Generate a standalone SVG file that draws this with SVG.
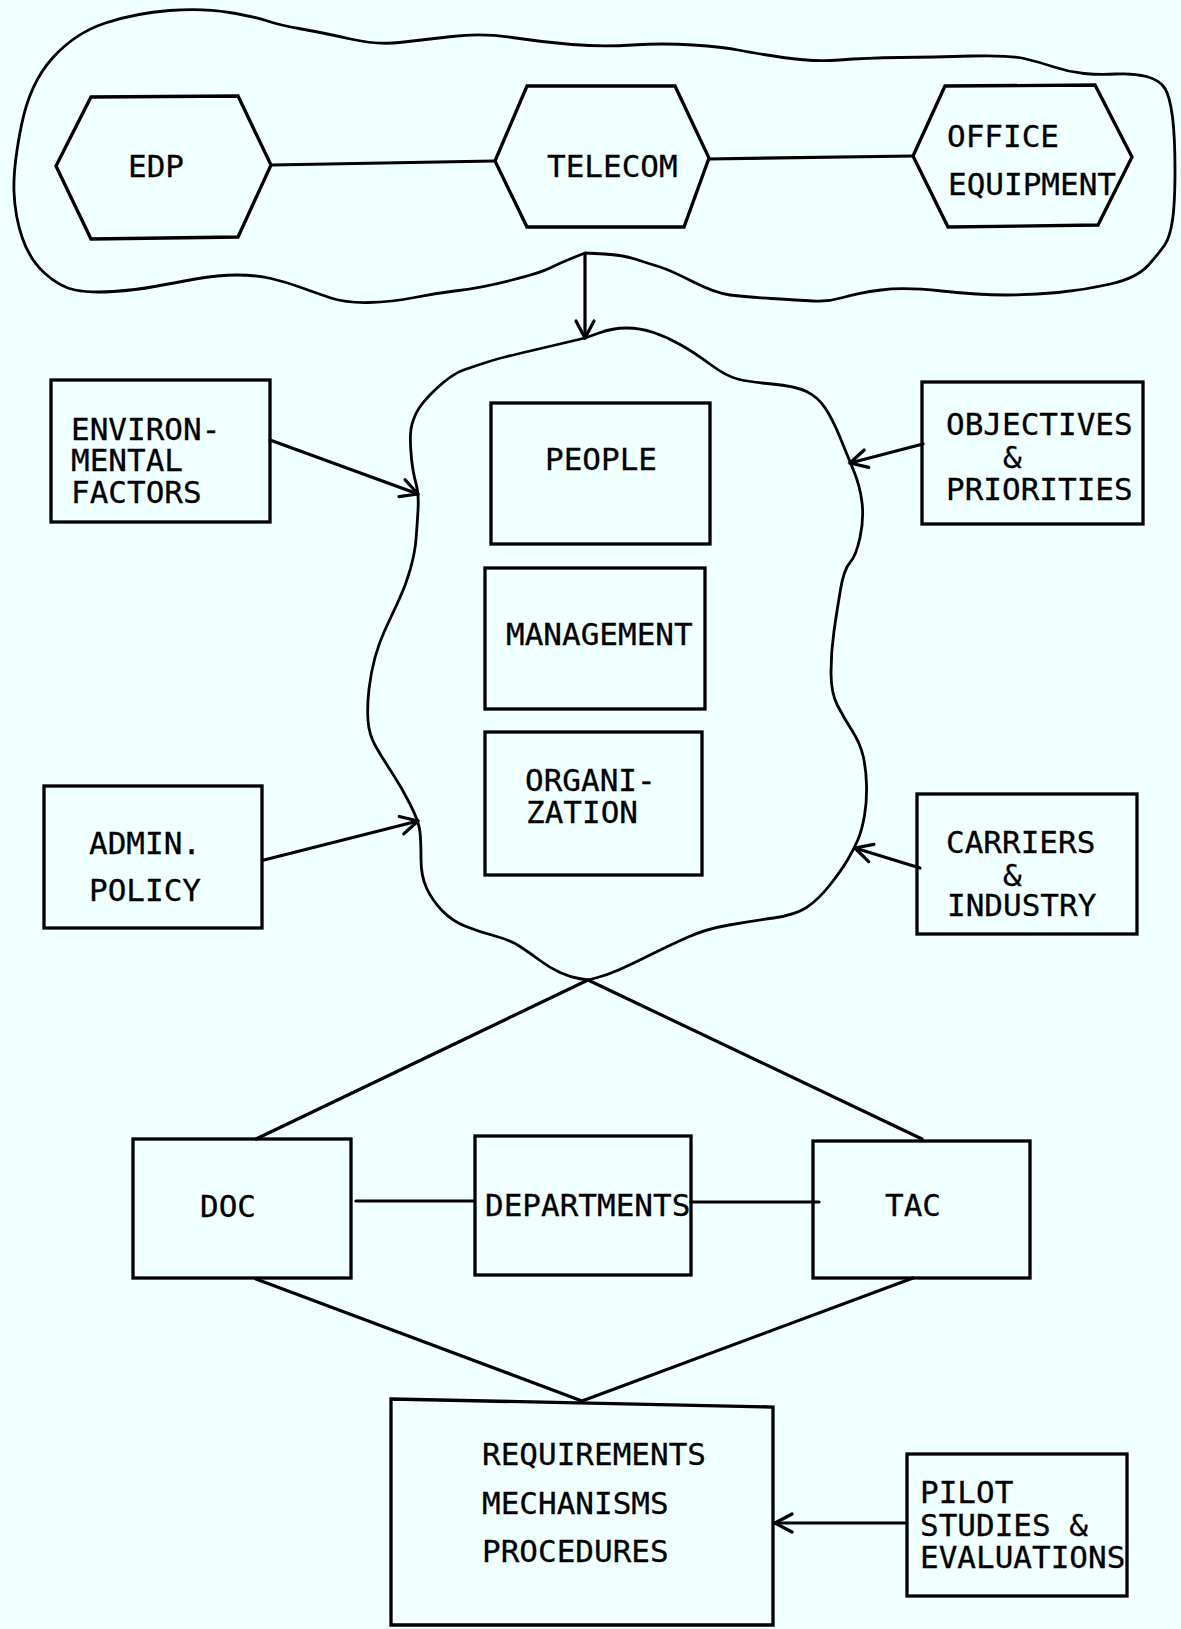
<svg xmlns="http://www.w3.org/2000/svg" width="1181" height="1629" viewBox="0 0 1181 1629">
  <style>
    .bg { fill: #f0ffff; }
    .outline { fill: none; stroke: #000; stroke-width: 2.8; stroke-linejoin: round; stroke-linecap: round; }
    .box { fill: none; stroke: #000; stroke-width: 3.3; stroke-linejoin: miter; }
    .link { fill: none; stroke: #000; stroke-width: 3.2; stroke-linecap: round; }
    .arrow { fill: none; stroke: #000; stroke-width: 3.2; stroke-linecap: round; marker-end: url(#vhead); }
    .lbl { font-family: "DejaVu Sans Mono", "Liberation Mono", monospace; font-size: 31px; fill: #000; stroke: #000; stroke-width: 0.3; }
  </style>
  <defs>
    <marker id="vhead" markerUnits="userSpaceOnUse" viewBox="-22 -12 26 24" refX="0" refY="0" markerWidth="26" markerHeight="24" orient="auto">
      <path d="M-17,-9 L0,0 L-17,9" fill="none" stroke="#000" stroke-width="3.2" stroke-linecap="round" stroke-linejoin="round"/>
    </marker>
  </defs>

  <rect class="bg" x="0" y="0" width="1181" height="1629"/>

  <!-- outer cloud around the technology group -->
  <g id="tech-cloud">
    <path class="outline" d="M14,192 Q13,167 21.5,125 Q30,83 52.5,58 Q75,33 105.5,23 Q136,13 169.5,10.5 Q203,8 229.5,12.5 Q256,17 267.5,21 Q279,25 301.5,29 Q324,33 350.5,39 Q377,45 399.5,42.5 Q422,40 452,36.5 Q482,33 512,37.5 Q542,42 572,44.5 Q602,47 632.5,45 Q663,43 693,45 Q723,47 738,50 Q753,53 783,57.5 Q813,62 839.5,60 Q866,58 900,57.5 Q934,57 971.5,56 Q1009,55 1024,58.5 Q1039,62 1054,67 Q1069,72 1084,73.5 Q1099,75 1116,74 Q1133,73 1146.5,76.5 Q1160,80 1165,88.5 Q1170,97 1172.5,117 Q1175,137 1175,170 Q1175,203 1172.5,220 Q1170,237 1165,244.5 Q1160,252 1148.5,265 Q1137,278 1110.5,284 Q1084,290 1058,292.5 Q1032,295 1005.5,295 Q979,295 941.5,291 Q904,287 881,290 Q858,293 843,297.5 Q828,302 813,301 Q798,300 771.5,298.5 Q745,297 730,295 Q715,293 692.5,281.5 Q670,270 658.5,266.5 Q647,263 635,259 Q623,255 604,254 L585,253 L572.5,258 Q560,263 550,268 Q540,273 510,280.5 Q480,288 458.5,290.5 Q437,293 414.5,297.5 Q392,302 369,302.5 Q346,303 331,298 Q316,293 301,287.5 Q286,282 271,278.5 Q256,275 237,275 Q218,275 195.5,279 Q173,283 154.5,286.5 Q136,290 113,291.5 Q90,293 75,290 Q60,287 45,273.5 Q30,260 22.5,238.5 Q15,217 14,192 Z"/>
  </g>

  <!-- central blob holding people / management / organization -->
  <g id="core-blob">
    <path class="outline" d="M585,338 L599,333 Q613,328 626.5,328 Q640,328 653.5,332.5 Q667,337 681,345 Q695,353 710.5,364.5 Q726,376 737.5,379 Q749,382 772,384 Q795,386 806.5,391.5 Q818,397 825.5,408.5 Q833,420 840.5,438.5 Q848,457 854,471.5 Q860,486 862,502.5 Q864,519 860,537.5 Q856,556 850,562.5 Q844,569 840.5,589.5 Q837,610 834,631 Q831,652 831,672.5 Q831,693 837.5,705.5 Q844,718 852,730.5 Q860,743 863,755.5 Q866,768 866.5,784.5 Q867,801 864.5,815.5 Q862,830 858,839.5 Q854,849 847.5,860 Q841,871 829.5,885.5 Q818,900 806.5,907.5 Q795,915 773.5,918 Q752,921 729,925 Q706,929 687,937.5 Q668,946 649,955.5 Q630,965 618.5,970 Q607,975 597.5,977.5 L588,980 L579,978.5 Q570,977 560,972.5 Q550,968 540,960.5 Q530,953 520,946.5 Q510,940 495,936 Q480,932 466,926.5 Q452,921 442,910.5 Q432,900 426.5,888 Q421,876 421,859 Q421,842 420,832 Q419,822 410.5,805 Q402,788 392.5,773.5 Q383,759 376,747 Q369,735 368,720.5 Q367,706 369,689 Q371,672 375,657.5 Q379,643 384.5,631 Q390,619 398,602 Q406,585 410.5,568.5 Q415,552 416,539.5 Q417,527 418,510.5 Q419,494 416,483.5 Q413,473 411.5,458.5 Q410,444 410.5,434 Q411,424 416,413.5 Q421,403 436.5,388.5 Q452,374 463.5,370 Q475,366 486,362.5 Q497,359 505,357 Q513,355 530,351 Q547,347 566,342.5 L585,338 Z"/>
  </g>

  <!-- hexagon nodes -->
  <g id="edp">
    <polygon class="box" points="56,166 91,97 238,96 271,165 238,237 91,239"/>
    <text class="lbl" x="128" y="177">EDP</text>
  </g>
  <g id="telecom">
    <polygon class="box" points="495,161 527,86 675,86 709,158 684,227 527,227"/>
    <text class="lbl" x="547" y="177">TELECOM</text>
  </g>
  <g id="office-equipment">
    <polygon class="box" points="913,156 945,86 1095,85 1132,157 1098,225 948,227"/>
    <text class="lbl" x="947" y="147">OFFICE</text>
    <text class="lbl" x="948" y="195">EQUIPMENT</text>
  </g>

  <!-- side boxes -->
  <g id="environmental-factors">
    <rect class="box" x="51" y="380" width="219" height="142"/>
    <text class="lbl" x="71" y="440">ENVIRON-</text>
    <text class="lbl" x="71" y="471">MENTAL</text>
    <text class="lbl" x="71" y="503">FACTORS</text>
  </g>
  <g id="admin-policy">
    <rect class="box" x="44" y="786" width="218" height="142"/>
    <text class="lbl" x="89" y="854">ADMIN.</text>
    <text class="lbl" x="89" y="901">POLICY</text>
  </g>
  <g id="objectives-priorities">
    <rect class="box" x="922" y="382" width="221" height="142"/>
    <text class="lbl" x="946" y="435">OBJECTIVES</text>
    <text class="lbl" x="1003" y="468">&amp;</text>
    <text class="lbl" x="946" y="500">PRIORITIES</text>
  </g>
  <g id="carriers-industry">
    <rect class="box" x="917" y="794" width="220" height="140"/>
    <text class="lbl" x="946" y="853">CARRIERS</text>
    <text class="lbl" x="1003" y="886">&amp;</text>
    <text class="lbl" x="947" y="916">INDUSTRY</text>
  </g>

  <!-- boxes inside the blob -->
  <g id="people">
    <rect class="box" x="491" y="403" width="219" height="141"/>
    <text class="lbl" x="545" y="470">PEOPLE</text>
  </g>
  <g id="management">
    <rect class="box" x="485" y="568" width="220" height="141"/>
    <text class="lbl" x="506" y="645">MANAGEMENT</text>
  </g>
  <g id="organization">
    <rect class="box" x="485" y="732" width="217" height="143"/>
    <text class="lbl" x="525" y="791">ORGANI-</text>
    <text class="lbl" x="526" y="823">ZATION</text>
  </g>

  <!-- lower row -->
  <g id="doc">
    <rect class="box" x="133" y="1139" width="218" height="139"/>
    <text class="lbl" x="200" y="1217">DOC</text>
  </g>
  <g id="departments">
    <rect class="box" x="475" y="1136" width="216" height="139"/>
    <text class="lbl" x="485" y="1216">DEPARTMENTS</text>
  </g>
  <g id="tac">
    <rect class="box" x="813" y="1141" width="217" height="137"/>
    <text class="lbl" x="885" y="1216">TAC</text>
  </g>
  <g id="requirements">
    <polygon class="box" points="391,1399 773,1407 773,1625 391,1625"/>
    <text class="lbl" x="482" y="1465">REQUIREMENTS</text>
    <text class="lbl" x="482" y="1514">MECHANISMS</text>
    <text class="lbl" x="482" y="1562">PROCEDURES</text>
  </g>
  <g id="pilot-studies">
    <rect class="box" x="907" y="1454" width="220" height="142"/>
    <text class="lbl" x="920" y="1503">PILOT</text>
    <text class="lbl" x="920" y="1536">STUDIES &amp;</text>
    <text class="lbl" x="920" y="1568">EVALUATIONS</text>
  </g>

  <!-- connectors -->
  <g id="connectors">
    <line class="link" x1="272" y1="165" x2="494" y2="161"/>
    <line class="link" x1="709" y1="159" x2="913" y2="156"/>
    <line class="arrow" x1="585" y1="254" x2="585" y2="338"/>
    <line class="arrow" x1="270" y1="440" x2="418" y2="494"/>
    <line class="arrow" x1="264" y1="860" x2="418" y2="821"/>
    <line class="arrow" x1="923" y1="444" x2="850" y2="463"/>
    <line class="arrow" x1="920" y1="868" x2="855" y2="848"/>
    <line class="link" x1="588" y1="980" x2="256" y2="1139"/>
    <line class="link" x1="588" y1="980" x2="922" y2="1139"/>
    <line class="link" x1="356" y1="1201" x2="474" y2="1201"/>
    <line class="link" x1="691" y1="1202" x2="819" y2="1202"/>
    <line class="link" x1="256" y1="1279" x2="582" y2="1401"/>
    <line class="link" x1="913" y1="1278" x2="582" y2="1401"/>
    <line class="arrow" x1="905" y1="1523" x2="775" y2="1523"/>
  </g>
</svg>
